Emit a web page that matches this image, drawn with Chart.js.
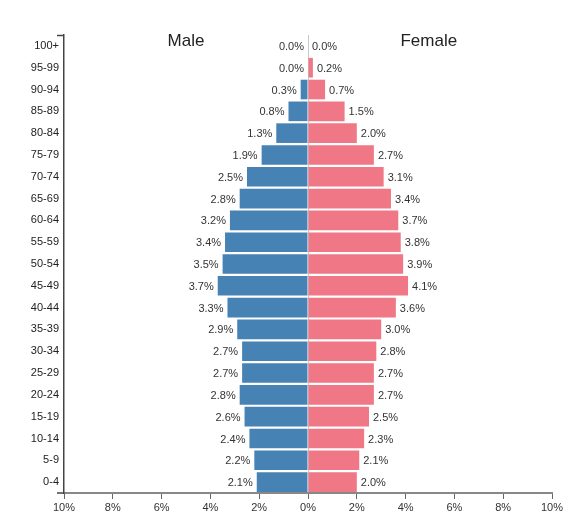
<!DOCTYPE html>
<html>
<head>
<meta charset="utf-8">
<script src="https://cdn.jsdelivr.net/npm/chart.js@4"></script>
<style>
  html, body { margin: 0; padding: 0; background: #fff; }
  #wrap { position: relative; width: 567px; height: 526px; }
</style>
</head>
<body>
<div id="wrap"><canvas id="c"></canvas></div>
<script>
const ageGroups = ['100+','95-99','90-94','85-89','80-84','75-79','70-74','65-69','60-64','55-59','50-54','45-49','40-44','35-39','30-34','25-29','20-24','15-19','10-14','5-9','0-4'];
const malePct   = [0.0, 0.0, 0.3, 0.8, 1.3, 1.9, 2.5, 2.8, 3.2, 3.4, 3.5, 3.7, 3.3, 2.9, 2.7, 2.7, 2.8, 2.6, 2.4, 2.2, 2.1];
const femalePct = [0.0, 0.2, 0.7, 1.5, 2.0, 2.7, 3.1, 3.4, 3.7, 3.8, 3.9, 4.1, 3.6, 3.0, 2.8, 2.7, 2.7, 2.5, 2.3, 2.1, 2.0];
const xTickValues = [-10, -8, -6, -4, -2, 0, 2, 4, 6, 8, 10];
const sideTitles = ['Male', 'Female'];

const FONT = "'Liberation Sans', Arial, Helvetica, sans-serif";
Chart.defaults.font.family = FONT;

const labelPlugin = {
  id: 'barLabels',
  afterDatasetsDraw(chart) {
    const ctx = chart.ctx;
    ctx.save();
    ctx.font = '11px ' + FONT;
    ctx.fillStyle = '#333';
    ctx.textBaseline = 'middle';
    chart.data.datasets.forEach((ds, di) => {
      const meta = chart.getDatasetMeta(di);
      meta.data.forEach((el, i) => {
        const v = ds.data[i];
        const txt = Math.abs(v).toFixed(1) + '%';
        if (di === 0) {
          ctx.textAlign = 'right';
          ctx.fillText(txt, Math.min(el.x, el.base) - 4, el.y + 1);
        } else {
          ctx.textAlign = 'left';
          ctx.fillText(txt, Math.max(el.x, el.base) + 4, el.y + 1);
        }
      });
    });
    // side titles
    const xs = chart.scales.x;
    const top = chart.chartArea.top;
    ctx.font = '17px ' + FONT;
    ctx.fillStyle = '#222';
    ctx.textAlign = 'center';
    ctx.fillText(sideTitles[0], xs.getPixelForValue(-5), top + 6);
    ctx.fillText(sideTitles[1], xs.getPixelForValue(4.95), top + 6);
    // outer ticks of left axis (d3 style)
    const a = chart.chartArea;
    ctx.strokeStyle = '#444';
    ctx.lineWidth = 1.5;
    ctx.beginPath();
    ctx.moveTo(a.left - 7, a.top + 0.5);
    ctx.lineTo(a.left, a.top + 0.5);
    ctx.moveTo(a.left - 7, a.bottom);
    ctx.lineTo(a.left, a.bottom);
    ctx.stroke();
    ctx.restore();
  }
};

new Chart(document.getElementById('c'), {
  type: 'bar',
  data: {
    labels: ageGroups,
    datasets: [
      { label: 'Male', data: malePct.map(v => -v), backgroundColor: '#4682b4', barPercentage: 0.9, categoryPercentage: 1.0 },
      { label: 'Female', data: femalePct, backgroundColor: '#ef7786', barPercentage: 0.9, categoryPercentage: 1.0 }
    ]
  },
  options: {
    indexAxis: 'y',
    responsive: true,
    maintainAspectRatio: false,
    animation: false,
    layout: { padding: { left: 0, right: 15, top: 35, bottom: 0 } },
    plugins: { legend: { display: false }, tooltip: { enabled: false } },
    scales: {
      x: {
        stacked: true,
        min: -10, max: 10,
        afterBuildTicks(scale) { scale.ticks = xTickValues.map(v => ({ value: v })); },
        afterFit(scale) { scale.height = 33; },
        ticks: {
          callback: v => Math.abs(v) + '%',
          font: { size: 11 },
          color: '#333',
          padding: 2,
          maxRotation: 0
        },
        grid: {
          drawOnChartArea: true,
          color: c => (c.tick && c.tick.value === 0) ? '#c8c8c8' : 'rgba(0,0,0,0)',
          tickColor: '#666',
          tickLength: 6,
          lineWidth: 1
        },
        border: { display: true, color: '#888', width: 2 }
      },
      y: {
        stacked: true,
        afterFit(scale) { scale.width = 64; },
        ticks: { font: { size: 11 }, color: '#222', padding: 5 },
        grid: { display: true, drawOnChartArea: false, drawTicks: false },
        border: { display: true, color: '#444', width: 1.5 }
      }
    }
  },
  plugins: [labelPlugin]
});
</script>
</body>
</html>
